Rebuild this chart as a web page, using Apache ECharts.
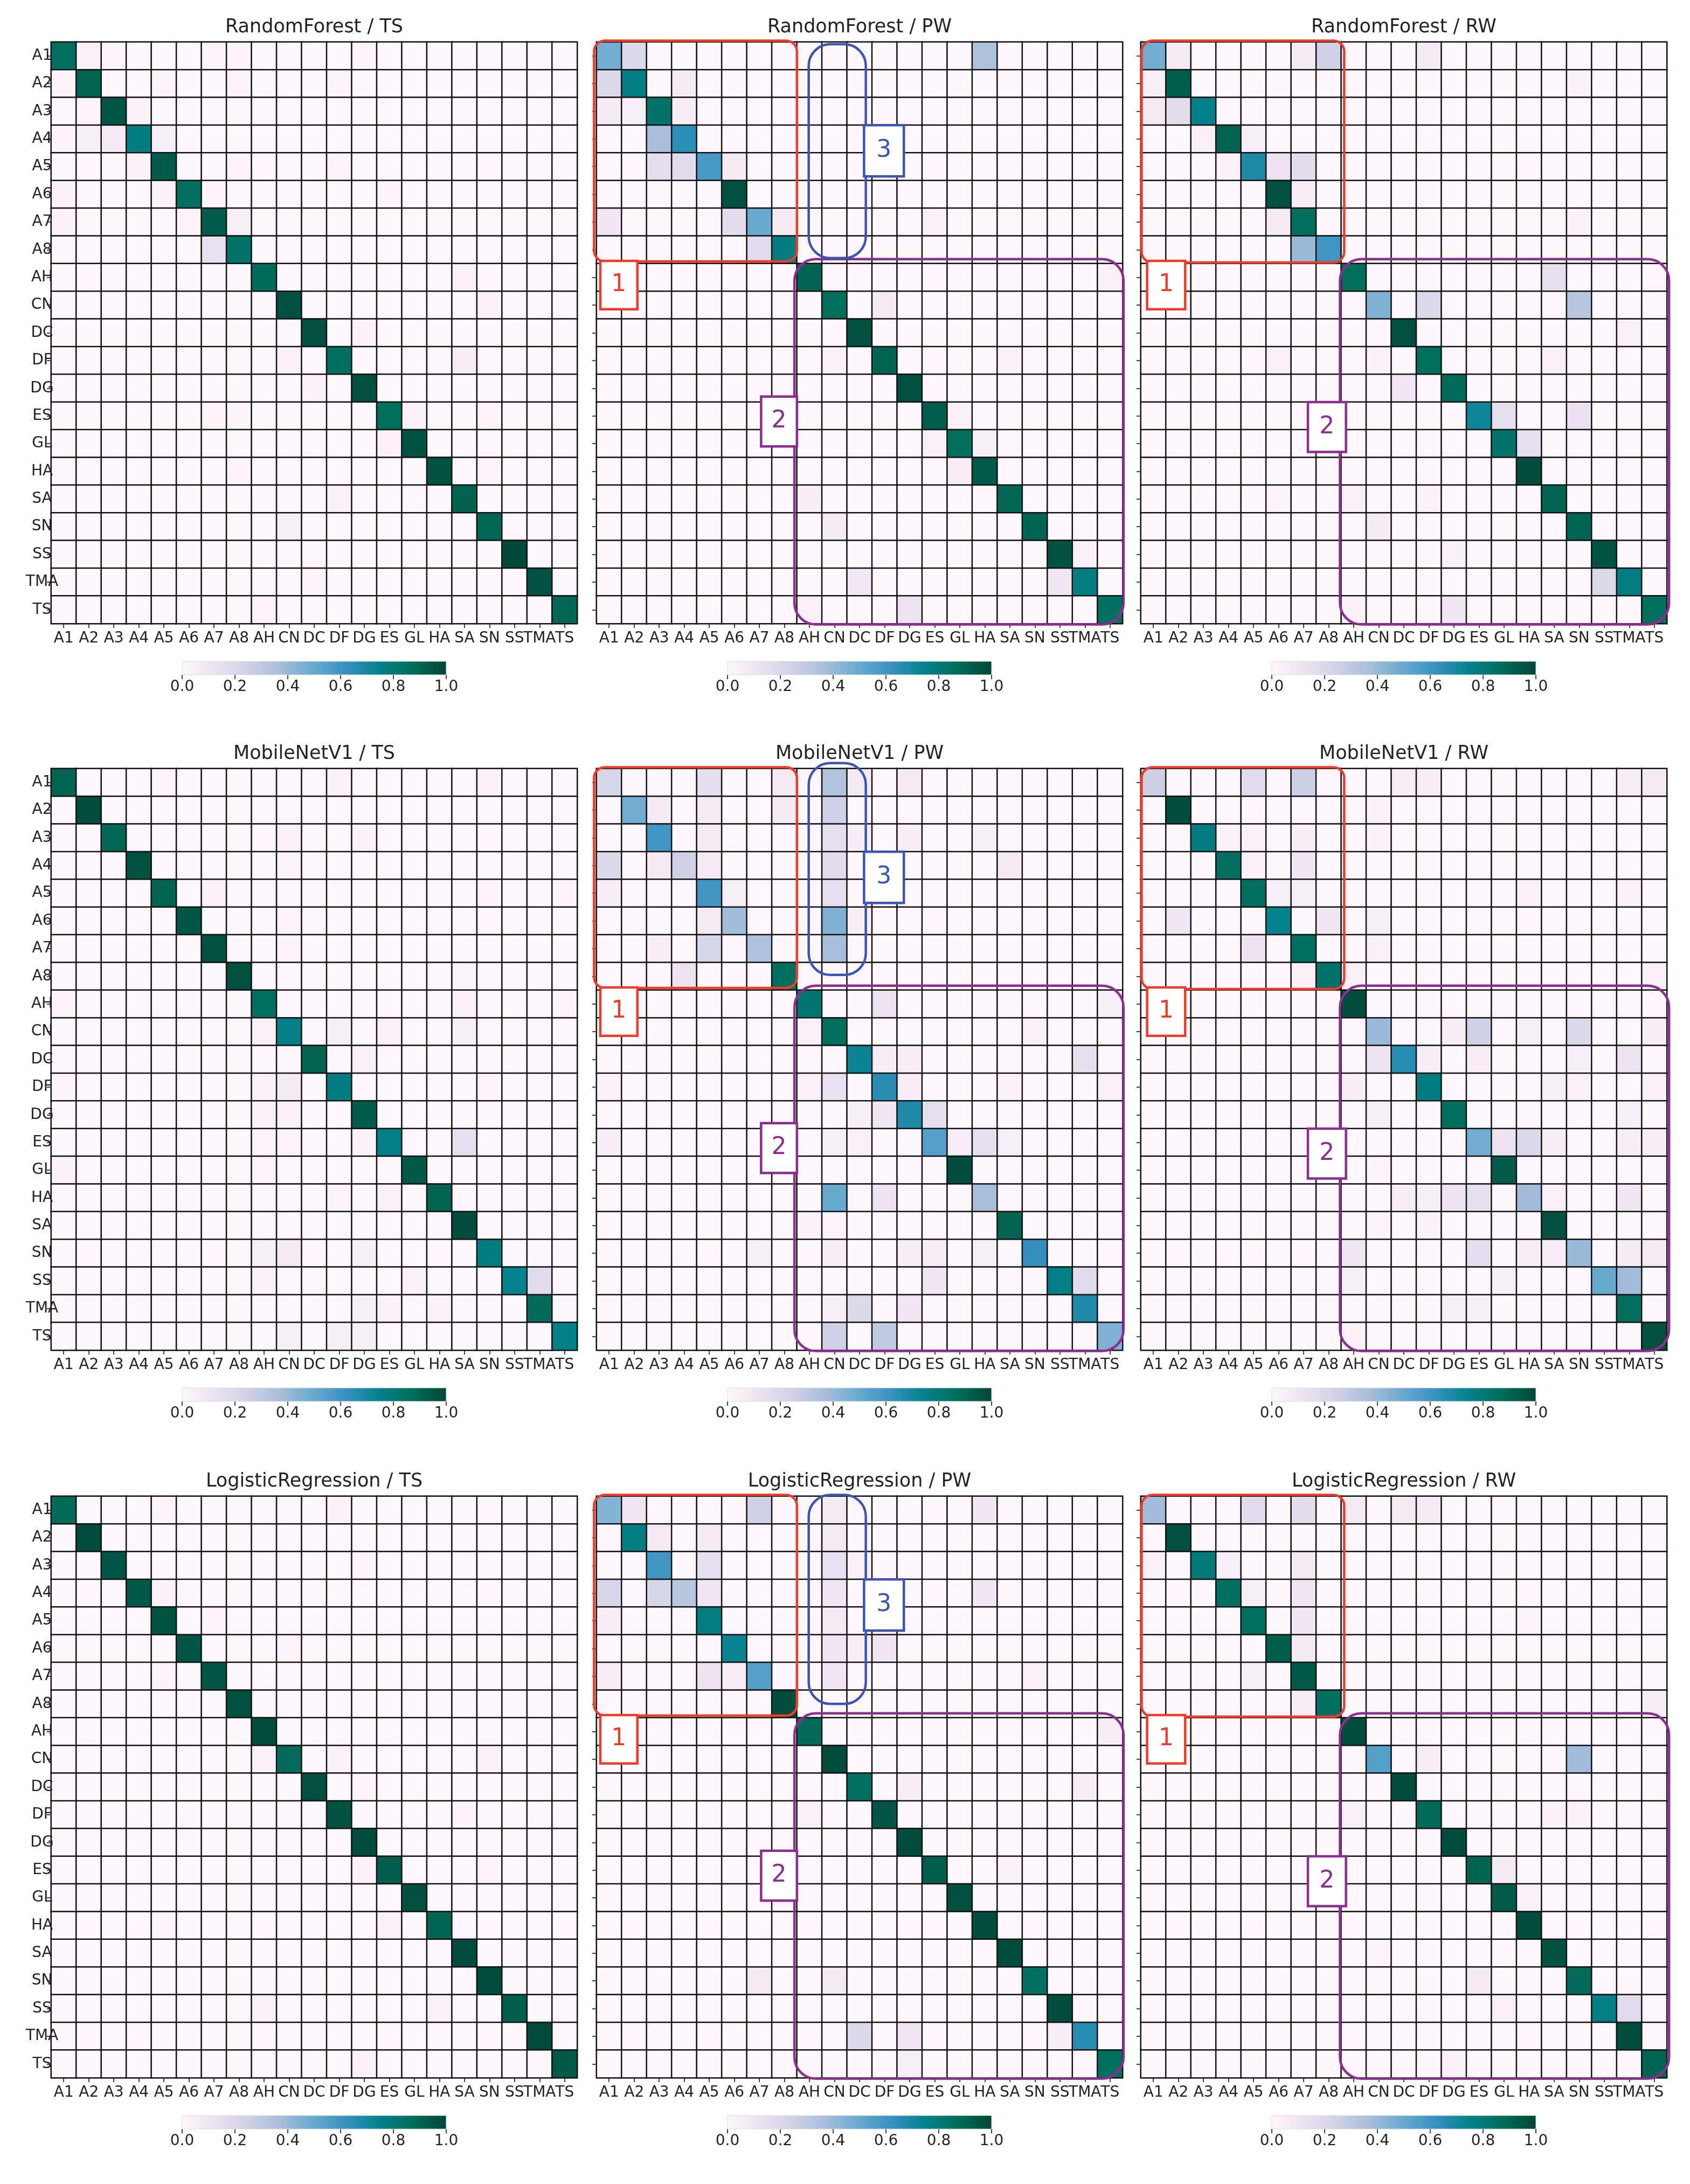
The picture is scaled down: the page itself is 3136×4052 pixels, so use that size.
<!DOCTYPE html>
<html>
<head>
<meta charset="utf-8">
<script src="https://cdn.jsdelivr.net/npm/echarts@6/dist/echarts.min.js"></script>
<style>
  html, body { margin: 0; background: #fff; }
  #main { width: 3136px; height: 4052px; }
</style>
</head>
<body>
<div id="main"></div>
<script>
// class labels (rows = true class, columns = predicted)
var classes = ['A1','A2','A3','A4','A5','A6','A7','A8','AH','CN','DC','DF','DG','ES','GL','HA','SA','SN','SS','TMA','TS'];
var models = ['RandomForest', 'MobileNetV1', 'LogisticRegression'];
var schemes = ['TS', 'PW', 'RW'];

// diagonal values in class order, off-diagonal cells as [true, predicted, value]
var rfTsDiag = [0.86,0.90,0.95,0.78,0.93,0.86,0.93,0.84,0.88,0.97,0.97,0.86,0.97,0.87,0.96,0.96,0.91,0.89,0.99,0.96,0.89];
var rfTsOff = [['A1','A2',.04],['A1','A3',.02],['A1','A7',.02],['A1','A8',.02],['A1','DG',.02],
  ['A2','A1',.02],['A2','A5',.02],['A2','A8',.02],['A2','DF',.02],['A3','A2',.02],['A3','A4',.03],
  ['A4','A1',.02],['A4','A2',.05],['A4','A3',.07],['A4','A5',.05],['A5','A4',.03],['A5','A8',.02],['A5','DF',.02],
  ['A6','A1',.03],['A6','A5',.03],['A6','A7',.02],['A6','ES',.02],['A7','A1',.03],['A7','A6',.02],['A7','A8',.05],
  ['A8','A7',.14],['AH','SA',.04],['CN','SN',.03],['DC','DG',.03],['DF','CN',.03],['DF','SA',.06],['DG','DC',.03],
  ['ES','A7',.02],['ES','A8',.02],['ES','GL',.03],['ES','SN',.02],['GL','ES',.03],['HA','A8',.02],['HA','SN',.02],
  ['SA','DF',.04],['SN','CN',.05],['TMA','DC',.02],['TS','AH',.02]];

var rfPwDiag = [0.48,0.77,0.84,0.65,0.58,0.97,0.50,0.78,0.90,0.87,0.97,0.90,0.97,0.92,0.87,0.93,0.89,0.90,0.96,0.77,0.85];
var rfPwOff = [['A1','A2',.2],['A1','HA',.35],['A2','A1',.2],['A2','A4',.07],['A3','A1',.07],['A3','A2',.05],['A3','A4',.06],
  ['A4','A3',.37],['A5','A3',.16],['A5','A4',.17],['A5','A6',.07],['A7','A1',.1],['A7','A6',.17],['A7','A8',.08],['A7','ES',.03],
  ['A8','A7',.18],['AH','TS',.04],['CN','DF',.08],['DF','CN',.03],['DF','SA',.03],['ES','GL',.04],['GL','ES',.04],['GL','HA',.05],
  ['HA','GL',.06],['SA','AH',.06],['SN','CN',.07],['SS','TMA',.04],['TMA','DC',.09],['TMA','SS',.1],['TS','AH',.04],['TS','DG',.12]];

var rfRwDiag = [0.48,0.92,0.75,0.90,0.68,0.97,0.87,0.60,0.87,0.45,0.97,0.87,0.88,0.72,0.84,0.98,0.90,0.90,0.96,0.77,0.87];
var rfRwOff = [['A1','A2',.07],['A1','A7',.08],['A1','A8',.25],['A1','DF',.08],['A2','A1',.05],['A2','SN',.03],['A3','A1',.08],
  ['A3','A2',.17],['A4','A3',.04],['A4','A5',.05],['A5','A4',.03],['A5','A6',.12],['A5','A7',.17],['A6','A7',.06],['A7','A6',.08],
  ['A7','SN',.03],['A8','A7',.4],['AH','SA',.15],['CN','DF',.2],['CN','SN',.32],['DC','TMA',.04],['DF','A6',.04],['DF','CN',.03],
  ['DF','SA',.04],['DG','DC',.1],['ES','GL',.15],['ES','SN',.13],['GL','HA',.15],['SA','A6',.02],['SA','AH',.04],['SA','DF',.03],
  ['SN','CN',.07],['SS','DG',.04],['TMA','SS',.2],['TS','AH',.03],['TS','DG',.1]];

var mnTsDiag = [0.90,0.98,0.89,0.96,0.90,0.95,0.96,0.97,0.86,0.76,0.90,0.78,0.93,0.76,0.94,0.90,0.98,0.78,0.74,0.88,0.76];
var mnTsOff = [['A1','A5',.02],['A1','DF',.03],['A1','SN',.03],['A3','CN',.03],['A3','DG',.03],['A4','CN',.02],['A5','A7',.03],
  ['A5','SN',.02],['A5','TS',.02],['A6','CN',.02],['A7','CN',.02],['A8','SA',.02],['AH','A1',.02],['AH','SA',.03],['AH','TS',.02],
  ['CN','AH',.04],['CN','DF',.05],['CN','ES',.03],['CN','SA',.05],['DC','DG',.04],['DF','A1',.02],['DF','AH',.03],['DF','CN',.08],
  ['DF','SN',.02],['DG','AH',.03],['DG','CN',.03],['ES','AH',.02],['ES','CN',.02],['ES','DG',.03],['ES','SA',.15],['GL','A1',.03],
  ['GL','AH',.02],['HA','DF',.02],['HA','ES',.04],['SN','AH',.05],['SN','CN',.08],['SN','DG',.05],['SS','AH',.03],['SS','GL',.03],
  ['SS','TMA',.18],['TMA','DG',.05],['TMA','ES',.03],['TMA','HA',.03],['TS','CN',.05],['TS','DF',.05],['TS','DG',.05]];

var mnPwDiag = [0.22,0.48,0.60,0.25,0.60,0.38,0.35,0.86,0.82,0.87,0.73,0.66,0.68,0.55,0.98,0.37,0.90,0.63,0.76,0.68,0.45];
var mnPwOff = [['A1','A5',.16],['A1','A8',.08],['A1','CN',.34],['A1','DC',.08],['A1','DG',.08],['A2','A3',.08],['A2','A5',.08],
  ['A2','A8',.08],['A2','CN',.25],['A3','A5',.07],['A3','CN',.15],['A3','DC',.06],['A3','DG',.06],['A3','HA',.05],['A4','A1',.2],
  ['A4','A3',.08],['A4','A5',.08],['A4','CN',.17],['A4','SA',.08],['A5','A1',.06],['A5','A6',.05],['A5','CN',.15],['A6','A5',.08],
  ['A6','CN',.45],['A6','DC',.06],['A7','A3',.06],['A7','A5',.22],['A7','CN',.37],['A8','A4',.12],['AH','DF',.12],['AH','TS',.05],
  ['CN','AH',.04],['CN','SN',.04],['DC','DF',.06],['DC','DG',.06],['DC','TMA',.15],['DF','A1',.03],['DF','AH',.04],['DF','CN',.14],
  ['DF','DG',.06],['DF','SA',.03],['DF','TS',.04],['DG','DC',.05],['DG','DF',.1],['DG','ES',.15],['ES','A1',.06],['ES','CN',.05],
  ['ES','DC',.04],['ES','GL',.06],['ES','HA',.15],['ES','SA',.05],['HA','CN',.5],['HA','DF',.12],['SA','AH',.03],['SA','CN',.02],
  ['SN','A7',.05],['SN','CN',.06],['SN','DG',.06],['SN','ES',.06],['SN','HA',.05],['SS','ES',.1],['SS','TMA',.18],['TMA','CN',.05],
  ['TMA','DC',.2],['TMA','DG',.1],['TS','CN',.25],['TS','DF',.3]];

var mnRwDiag = [0.26,0.98,0.78,0.86,0.86,0.74,0.86,0.84,0.98,0.40,0.66,0.78,0.86,0.48,0.93,0.38,0.97,0.40,0.50,0.87,0.97];
var mnRwOff = [['A1','A5',.18],['A1','A7',.26],['A1','DC',.06],['A1','DF',.06],['A1','TMA',.06],['A1','TS',.08],['A2','CN',.03],
  ['A3','A4',.03],['A3','A5',.04],['A3','A7',.06],['A3','CN',.03],['A4','A5',.04],['A4','A7',.1],['A5','A6',.05],['A5','A7',.05],
  ['A5','HA',.03],['A5','TMA',.03],['A6','A2',.1],['A6','A8',.1],['A6','CN',.05],['A7','A5',.12],['A7','CN',.04],['A8','A7',.04],
  ['A8','AH',.04],['A8','TS',.04],['CN','DG',.06],['CN','ES',.25],['CN','HA',.05],['CN','SN',.2],['CN','TS',.06],['DC','CN',.12],
  ['DC','DF',.06],['DC','ES',.06],['DC','SN',.05],['DC','TMA',.12],['DF','AH',.06],['DF','SA',.05],['DF','SN',.04],['DF','TS',.04],
  ['DG','CN',.05],['DG','TMA',.05],['ES','GL',.12],['ES','HA',.2],['ES','SA',.06],['ES','TMA',.06],['ES','TS',.06],['GL','CN',.02],
  ['HA','DC',.06],['HA','DF',.05],['HA','DG',.12],['HA','ES',.15],['HA','SA',.04],['HA','TMA',.1],['SA','CN',.02],['SA','DF',.03],
  ['SN','AH',.1],['SN','ES',.16],['SN','HA',.06],['SN','SA',.06],['SN','TMA',.07],['SN','TS',.08],['SS','AH',.05],['SS','GL',.05],
  ['SS','TMA',.38],['TMA','DG',.05],['TMA','ES',.05],['TS','AH',.03]];

var lrTsDiag = [0.88,0.98,0.95,0.94,0.96,0.95,0.95,0.97,0.98,0.88,0.97,0.96,0.98,0.92,0.97,0.90,0.98,0.98,0.92,0.99,0.94];
var lrTsOff = [['A1','A5',.02],['A1','DF',.03],['A3','DG',.02],['A4','A5',.03],['A5','A7',.02],['A6','CN',.02],['A7','A5',.02],
  ['CN','AH',.04],['CN','DF',.03],['CN','SN',.03],['DC','DG',.02],['DF','SA',.01],['ES','DG',.03],['ES','SN',.02],['HA','A5',.02],
  ['HA','ES',.04],['SS','AH',.03],['SS','HA',.03],['TS','DG',.03]];

var lrPwDiag = [0.44,0.77,0.60,0.32,0.77,0.73,0.55,0.98,0.88,0.98,0.85,0.95,0.98,0.92,0.97,0.98,0.98,0.85,0.98,0.66,0.87];
var lrPwOff = [['A1','A2',.1],['A1','A7',.25],['A1','CN',.08],['A1','HA',.1],['A2','A3',.08],['A2','A5',.07],['A2','CN',.08],
  ['A3','A5',.15],['A3','CN',.14],['A3','DC',.04],['A4','A1',.22],['A4','A3',.22],['A4','A5',.1],['A4','CN',.1],['A4','HA',.1],
  ['A5','A1',.06],['A5','CN',.08],['A6','CN',.1],['A6','DC',.06],['A6','DF',.1],['A7','A1',.06],['A7','A5',.12],['A7','A6',.06],
  ['A7','CN',.1],['A7','SN',.04],['AH','TS',.06],['DC','DG',.06],['DC','TMA',.06],['DF','AH',.04],['ES','SA',.03],['SN','A7',.08],
  ['SN','CN',.08],['TMA','DC',.2],['TMA','DG',.1],['TMA','SS',.06],['TS','DG',.05]];

var lrRwDiag = [0.38,0.97,0.79,0.85,0.86,0.92,0.94,0.86,0.98,0.55,0.98,0.88,0.98,0.90,0.93,0.98,0.96,0.88,0.76,0.98,0.90];
var lrRwOff = [['A1','A5',.18],['A1','A7',.17],['A1','AH',.08],['A1','DC',.08],['A1','DF',.08],['A3','A1',.04],['A3','A4',.05],
  ['A3','A7',.08],['A4','A5',.05],['A4','A7',.1],['A5','A7',.1],['A5','HA',.02],['A6','A7',.08],['A7','A5',.05],['A8','A7',.06],
  ['A8','TS',.06],['CN','DF',.06],['CN','SN',.38],['DF','AH',.04],['DF','SA',.03],['DF','SN',.03],['ES','GL',.08],['GL','HA',.04],
  ['SA','CN',.02],['SN','ES',.08],['SS','GL',.04],['SS','TMA',.18],['TS','DG',.03]];

var panels = [
  [rfTsDiag, rfTsOff], [rfPwDiag, rfPwOff], [rfRwDiag, rfRwOff],
  [mnTsDiag, mnTsOff], [mnPwDiag, mnPwOff], [mnRwDiag, mnRwOff],
  [lrTsDiag, lrTsOff], [lrPwDiag, lrPwOff], [lrRwDiag, lrRwOff]
];

// matplotlib PuBuGn
var pubugn = ['#fff7fb','#ece2f0','#d0d1e6','#a6bddb','#67a9cf','#3690c0','#02818a','#016c59','#014636'];

// layout
var colLeft = [95, 1107, 2117], colWidth = 976;
var rowTop = [78, 1426, 2776], rowHeight = 1079;
var cbWidth = 490, cbHeight = 25, cbGap = 70;
var font = 'DejaVu Sans';
var n = classes.length;

function buildMatrix(diag, off) {
  var data = [];
  for (var r = 0; r < n; r++) {
    for (var c = 0; c < n; c++) {
      data.push([c, r, r === c ? diag[r] : 0]);
    }
  }
  off.forEach(function (o) {
    var r = classes.indexOf(o[0]), c = classes.indexOf(o[1]);
    data[r * n + c][2] = o[2];
  });
  return data;
}

var grid = [], xAxis = [], yAxis = [], series = [], graphic = [];

// heatmaps
for (var m = 0; m < 3; m++) {
  for (var s = 0; s < 3; s++) {
    var i = m * 3 + s;
    grid.push({ left: colLeft[s], top: rowTop[m], width: colWidth, height: rowHeight });
    xAxis.push({
      type: 'category', gridIndex: i, data: classes,
      axisLine: { show: false },
      axisTick: { show: true, alignWithLabel: true, length: 8, lineStyle: { color: '#444', width: 2 } },
      axisLabel: { interval: 0, margin: 14, fontSize: 28, color: '#222', fontFamily: font },
      splitLine: { show: false }
    });
    yAxis.push({
      type: 'category', gridIndex: i, data: classes, inverse: true, z: 10,
      axisLine: { show: false },
      axisTick: { show: true, alignWithLabel: true, length: 8, lineStyle: { color: '#444', width: 2 } },
      axisLabel: { show: s === 0, interval: 0, align: 'center', margin: 17, fontSize: 28, color: '#222', fontFamily: font },
      splitLine: { show: false }
    });
    series.push({
      type: 'heatmap', xAxisIndex: i, yAxisIndex: i, z: 2,
      data: buildMatrix(panels[i][0], panels[i][1]),
      itemStyle: { borderColor: '#111', borderWidth: 2.5 },
      emphasis: { disabled: true },
      progressive: 0
    });
    graphic.push({
      type: 'text', z: 100,
      x: colLeft[s] + colWidth / 2, y: rowTop[m] - 27,
      style: { text: models[m] + ' / ' + schemes[s], font: '35px "' + font + '"', fill: '#222', align: 'center', verticalAlign: 'middle' }
    });
  }
}

// colorbars
var stops = pubugn.map(function (c, k) { return { offset: k / (pubugn.length - 1), color: c }; });
for (var m2 = 0; m2 < 3; m2++) {
  for (var s2 = 0; s2 < 3; s2++) {
    var g = 9 + m2 * 3 + s2;
    var cl = colLeft[s2] + (colWidth - cbWidth) / 2;
    var ct = rowTop[m2] + rowHeight + cbGap;
    grid.push({ left: cl, top: ct, width: cbWidth, height: cbHeight });
    xAxis.push({
      type: 'value', gridIndex: g, min: 0, max: 1, interval: 0.2,
      axisLine: { show: false },
      axisTick: { show: true, length: 8, lineStyle: { color: '#444', width: 2 } },
      axisLabel: { margin: 9, fontSize: 28, color: '#222', fontFamily: font, formatter: function (v) { return v.toFixed(1); } },
      splitLine: { show: false }
    });
    yAxis.push({ type: 'value', gridIndex: g, min: 0, max: 1, show: false, splitLine: { show: false } });
    graphic.push({
      type: 'rect', z: 50,
      shape: { x: cl, y: ct, width: cbWidth, height: cbHeight },
      style: { fill: new echarts.graphic.LinearGradient(0, 0, 1, 0, stops), stroke: '#ddd', lineWidth: 1 }
    });
  }
}

// annotation boxes in cell units [x0, y0, x1, y1]
var redBox = { PW: [-0.1, -0.05, 8.0, 7.92], RW: [0.03, -0.05, 8.12, 7.96] };
var redTag = { PW: [0.15, 7.9, 1.63, 9.65], RW: [0.25, 7.9, 1.77, 9.65] };
var purpleBox = { PW: [7.9, 7.84, 21.04, 21.03], RW: [7.95, 7.84, 21.09, 21.03] };
var purpleTag = { PW: [6.57, 12.8, 8.0, 14.6], RW: [6.67, 13.0, 8.19, 14.8] };
var blueBoxY = [[0.08, 7.8], [-0.2, 7.45], [-0.05, 7.5]];
var blueBoxX = [8.47, 10.75];
var blueTag = [10.68, 3.0, 12.27, 4.85];

var red = '#ee3b2b', blue = '#3d55b2', purple = '#8c2d91';

function cellRect(m, s, b) {
  var cw = colWidth / n, ch = rowHeight / n;
  return {
    x: colLeft[s] + b[0] * cw, y: rowTop[m] + b[1] * ch,
    width: (b[2] - b[0]) * cw, height: (b[3] - b[1]) * ch
  };
}
function addBox(m, s, b, color, r) {
  var sh = cellRect(m, s, b);
  sh.r = r;
  graphic.push({ type: 'rect', z: 110, shape: sh, style: { fill: 'none', stroke: color, lineWidth: 4.5 } });
}
function addTag(m, s, b, color, label) {
  var sh = cellRect(m, s, b);
  graphic.push({ type: 'rect', z: 120, shape: sh, style: { fill: '#fff', stroke: color, lineWidth: 4.5 } });
  graphic.push({
    type: 'text', z: 121, x: sh.x + sh.width / 2, y: sh.y + sh.height / 2,
    style: { text: label, font: '44px "' + font + '"', fill: color, align: 'center', verticalAlign: 'middle' }
  });
}

for (var m3 = 0; m3 < 3; m3++) {
  ['PW', 'RW'].forEach(function (sc) {
    var s3 = schemes.indexOf(sc);
    addBox(m3, s3, redBox[sc], red, 20);
    addBox(m3, s3, purpleBox[sc], purple, 40);
    if (sc === 'PW') {
      addBox(m3, s3, [blueBoxX[0], blueBoxY[m3][0], blueBoxX[1], blueBoxY[m3][1]], blue, 40);
      addTag(m3, s3, blueTag, blue, '3');
    }
    addTag(m3, s3, redTag[sc], red, '1');
    addTag(m3, s3, purpleTag[sc], purple, '2');
  });
}

var chart = echarts.init(document.getElementById('main'));
chart.setOption({
  backgroundColor: '#fff',
  animation: false,
  grid: grid,
  xAxis: xAxis,
  yAxis: yAxis,
  visualMap: [{
    type: 'continuous', show: false, min: 0, max: 1,
    seriesIndex: [0, 1, 2, 3, 4, 5, 6, 7, 8],
    inRange: { color: pubugn }
  }],
  series: series,
  graphic: graphic
});
</script>
</body>
</html>
